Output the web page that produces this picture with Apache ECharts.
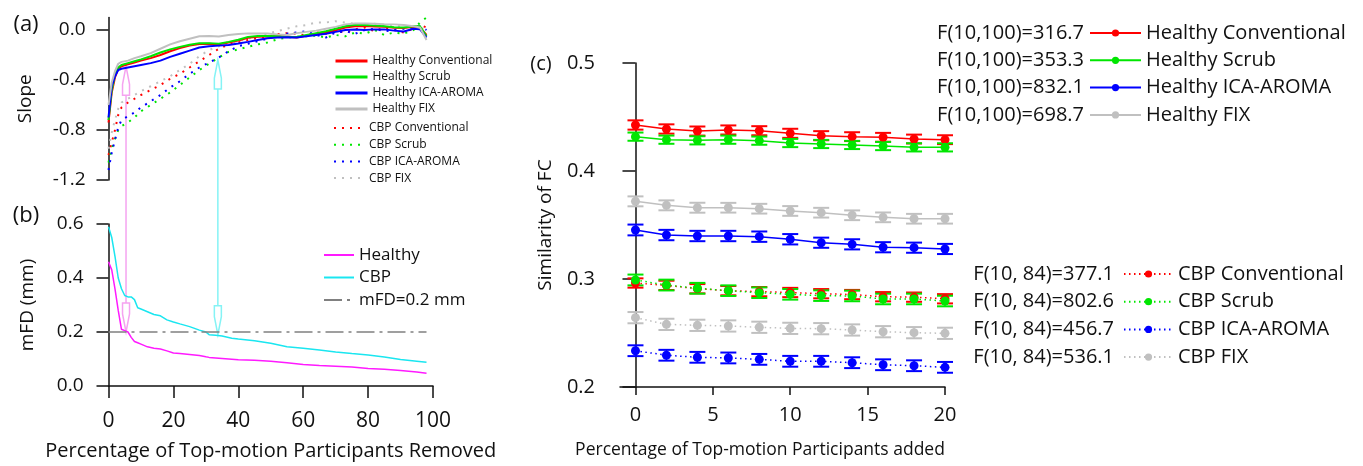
<!DOCTYPE html>
<html>
<head>
<meta charset="utf-8">
<script src="https://cdn.jsdelivr.net/npm/echarts@6/dist/echarts.min.js"></script>
<style>
  html, body { margin: 0; background: #fff; }
  #main { width: 1363px; height: 466px; }
</style>
</head>
<body>
<div id="main"></div>
<script>
// ---- panel (a): slope vs percentage removed ----
var pctA = [0, 1, 2, 3, 4, 6, 8, 10, 13, 16, 19, 22, 25, 28, 31, 34, 37, 40, 43, 46, 49, 52, 55, 58, 61, 64, 67, 70, 73, 76, 79, 82, 85, 88, 91, 94, 96, 98];
var slopeHConv = [-0.74, -0.50, -0.38, -0.31, -0.29, -0.275, -0.26, -0.245, -0.225, -0.20, -0.17, -0.145, -0.125, -0.112, -0.11, -0.115, -0.10, -0.085, -0.062, -0.055, -0.053, -0.05, -0.052, -0.06, -0.045, -0.032, -0.02, -0.003, 0.02, 0.03, 0.032, 0.028, 0.025, 0.018, 0.015, 0.025, 0.02, -0.04];
var slopeHScrub = [-0.72, -0.48, -0.36, -0.30, -0.28, -0.265, -0.25, -0.235, -0.21, -0.18, -0.155, -0.135, -0.118, -0.105, -0.105, -0.11, -0.095, -0.078, -0.055, -0.048, -0.047, -0.05, -0.053, -0.055, -0.04, -0.025, -0.01, 0.01, 0.03, 0.042, 0.04, 0.035, 0.03, 0.022, 0.02, 0.03, 0.03, -0.05];
var slopeHAroma = [-0.70, -0.45, -0.37, -0.32, -0.31, -0.30, -0.29, -0.28, -0.265, -0.245, -0.215, -0.19, -0.165, -0.14, -0.13, -0.125, -0.12, -0.108, -0.095, -0.08, -0.066, -0.06, -0.058, -0.06, -0.05, -0.04, -0.03, -0.015, 0.0, 0.004, 0.0, 0.005, 0.005, -0.005, -0.012, 0.01, 0.005, -0.06];
var slopeHFix = [-0.60, -0.42, -0.33, -0.27, -0.255, -0.245, -0.225, -0.21, -0.185, -0.15, -0.115, -0.09, -0.07, -0.05, -0.048, -0.052, -0.04, -0.032, -0.027, -0.027, -0.028, -0.035, -0.04, -0.025, -0.015, -0.005, 0.01, 0.025, 0.045, 0.052, 0.053, 0.05, 0.047, 0.045, 0.04, 0.03, 0.02, -0.08];
var slopeCConv = [-1.00, -0.90, -0.80, -0.68, -0.62, -0.58, -0.55, -0.52, -0.48, -0.44, -0.39, -0.35, -0.30, -0.25, -0.20, -0.15, -0.115, -0.10, -0.08, -0.065, -0.055, -0.035, -0.025, -0.03, -0.045, -0.02, -0.03, -0.01, -0.02, 0.005, 0.02, -0.01, 0.02, 0.0, -0.02, 0.01, 0.04, 0.02];
var slopeCScrub = [-1.06, -0.95, -0.87, -0.80, -0.77, -0.74, -0.70, -0.65, -0.60, -0.55, -0.50, -0.44, -0.38, -0.32, -0.27, -0.22, -0.175, -0.155, -0.135, -0.115, -0.10, -0.075, -0.06, -0.055, -0.05, -0.045, -0.06, -0.04, -0.05, -0.02, -0.03, 0.0, -0.04, -0.02, -0.03, 0.0, 0.06, 0.10];
var slopeCAroma = [-1.12, -0.98, -0.88, -0.78, -0.72, -0.69, -0.66, -0.62, -0.57, -0.52, -0.46, -0.41, -0.35, -0.30, -0.26, -0.22, -0.17, -0.13, -0.11, -0.09, -0.07, -0.045, -0.03, -0.02, -0.01, -0.04, -0.06, -0.02, -0.01, -0.03, 0.0, 0.01, -0.01, 0.0, 0.01, 0.02, 0.03, 0.0];
var slopeCFix = [-0.95, -0.82, -0.72, -0.63, -0.58, -0.55, -0.52, -0.49, -0.45, -0.41, -0.37, -0.32, -0.27, -0.21, -0.16, -0.13, -0.11, -0.09, -0.07, -0.05, -0.03, -0.01, 0.01, 0.03, 0.04, 0.06, 0.06, 0.07, 0.06, 0.05, 0.04, 0.05, 0.03, 0.04, 0.02, 0.03, 0.02, 0.0];

// ---- panel (b): mean FD vs percentage removed ----
var pctB = [0, 1, 2, 3, 4, 5, 6, 7, 8, 9, 10, 12, 14, 16, 18, 20, 22, 25, 28, 30, 31, 33, 35, 38, 40, 45, 50, 55, 60, 65, 70, 75, 80, 85, 90, 95, 98];
var mfdHealthy = [0.46, 0.43, 0.36, 0.28, 0.21, 0.205, 0.20, 0.18, 0.165, 0.16, 0.155, 0.145, 0.14, 0.137, 0.13, 0.122, 0.12, 0.117, 0.113, 0.108, 0.106, 0.104, 0.102, 0.099, 0.097, 0.095, 0.092, 0.086, 0.08, 0.076, 0.073, 0.07, 0.065, 0.062, 0.057, 0.052, 0.047];
var mfdCBP = [0.59, 0.55, 0.48, 0.40, 0.36, 0.335, 0.33, 0.33, 0.32, 0.29, 0.285, 0.275, 0.265, 0.26, 0.245, 0.237, 0.23, 0.22, 0.207, 0.20, 0.19, 0.188, 0.185, 0.177, 0.174, 0.168, 0.158, 0.145, 0.14, 0.133, 0.126, 0.12, 0.115, 0.107, 0.098, 0.092, 0.088];
var mfdLimitX = [0, 98];
var mfdLimit = 0.2;

// arrows linking (a) and (b)
var arrowPct = [5.4, 33.7];
var arrowSlope = [-0.29, -0.24];
var arrowMfd = [0.2, 0.19];
var arrowColors = ['#f5a3f0', '#85f3f5'];

// ---- panel (c): similarity of FC vs percentage added ----
var pctC = [0, 2, 4, 6, 8, 10, 12, 14, 16, 18, 20];
var simHConv = [0.4426, 0.4389, 0.4370, 0.4380, 0.4373, 0.4349, 0.4327, 0.4318, 0.4312, 0.4296, 0.4290];
var simHScrub = [0.4318, 0.4290, 0.4284, 0.4290, 0.4281, 0.4259, 0.4250, 0.4241, 0.4231, 0.4219, 0.4219];
var simHAroma = [0.3454, 0.3407, 0.3398, 0.3398, 0.3392, 0.3368, 0.3336, 0.3321, 0.3294, 0.3290, 0.3278];
var simHFix = [0.3719, 0.3682, 0.3660, 0.3660, 0.3651, 0.3630, 0.3614, 0.3590, 0.3571, 0.3558, 0.3558];
var simCConv = [0.2963, 0.2941, 0.2910, 0.2892, 0.2883, 0.2875, 0.2864, 0.2856, 0.2836, 0.2832, 0.2817];
var simCScrub = [0.2991, 0.2944, 0.2914, 0.2892, 0.2873, 0.2858, 0.2846, 0.2843, 0.2815, 0.2815, 0.2796];
var simCAroma = [0.2336, 0.2294, 0.2275, 0.2269, 0.2256, 0.2238, 0.2238, 0.2225, 0.2206, 0.2197, 0.2182];
var simCFix = [0.2642, 0.2580, 0.2571, 0.2565, 0.2553, 0.2543, 0.2540, 0.2528, 0.2512, 0.2503, 0.2497];
var errHConv = [0.0043, 0.0043, 0.0042, 0.0042, 0.0042, 0.0042, 0.0042, 0.0041, 0.0041, 0.0041, 0.0041];
var errHScrub = [0.0038, 0.0038, 0.0038, 0.0038, 0.0038, 0.0038, 0.0038, 0.0038, 0.0038, 0.0038, 0.0038];
var errHAroma = [0.0050, 0.0048, 0.0048, 0.0048, 0.0048, 0.0048, 0.0047, 0.0047, 0.0047, 0.0047, 0.0047];
var errHFix = [0.0046, 0.0046, 0.0046, 0.0045, 0.0045, 0.0045, 0.0045, 0.0045, 0.0045, 0.0045, 0.0045];
var errCConv = [0.0043, 0.0043, 0.0043, 0.0043, 0.0043, 0.0043, 0.0043, 0.0043, 0.0043, 0.0043, 0.0043];
var errCScrub = [0.0050, 0.0050, 0.0050, 0.0049, 0.0049, 0.0049, 0.0049, 0.0049, 0.0049, 0.0049, 0.0049];
var errCAroma = [0.0050, 0.0050, 0.0050, 0.0050, 0.0050, 0.0050, 0.0050, 0.0050, 0.0050, 0.0050, 0.0050];
var errCFix = [0.0052, 0.0052, 0.0052, 0.0052, 0.0052, 0.0052, 0.0052, 0.0052, 0.0052, 0.0052, 0.0052];

var healthyNames = ['Healthy Conventional', 'Healthy Scrub', 'Healthy ICA-AROMA', 'Healthy FIX'];
var cbpNames = ['CBP Conventional', 'CBP Scrub', 'CBP ICA-AROMA', 'CBP FIX'];
var fHealthy = ['F(10,100)=316.7', 'F(10,100)=353.3', 'F(10,100)=832.1', 'F(10,100)=698.7'];
var fCBP = ['F(10, 84)=377.1', 'F(10, 84)=802.6', 'F(10, 84)=456.7', 'F(10, 84)=536.1'];

var colors = ['#ff0000', '#00e600', '#0000ff', '#c0c0c0'];
var FONT = "'Open Sans', 'Noto Sans', sans-serif";
var INK = '#111';

function pairs(xs, ys) {
  return xs.map(function (x, i) { return [x, ys[i]]; });
}

var series = [];

// (a)
var slopeH = [slopeHConv, slopeHScrub, slopeHAroma, slopeHFix];
var slopeC = [slopeCConv, slopeCScrub, slopeCAroma, slopeCFix];
slopeC.forEach(function (ys, i) {
  series.push({
    name: cbpNames[i], type: 'line', xAxisIndex: 0, yAxisIndex: 0,
    data: pairs(pctA, ys), showSymbol: false, symbol: 'circle', silent: true,
    lineStyle: { color: colors[i], width: 2, type: [2, 6] },
    itemStyle: { color: colors[i] }
  });
});
slopeH.forEach(function (ys, i) {
  series.push({
    name: healthyNames[i], type: 'line', xAxisIndex: 0, yAxisIndex: 0,
    data: pairs(pctA, ys), showSymbol: false, symbol: 'circle', silent: true,
    lineStyle: { color: colors[i], width: 2 },
    itemStyle: { color: colors[i] }
  });
});

// (b)
series.push({
  name: 'Healthy', type: 'line', xAxisIndex: 1, yAxisIndex: 1,
  data: pairs(pctB, mfdHealthy), showSymbol: false, symbol: 'circle', silent: true,
  lineStyle: { color: '#ff1aff', width: 1.5 }, itemStyle: { color: '#ff1aff' }
});
series.push({
  name: 'CBP', type: 'line', xAxisIndex: 1, yAxisIndex: 1,
  data: pairs(pctB, mfdCBP), showSymbol: false, symbol: 'circle', silent: true,
  lineStyle: { color: '#1ae6f0', width: 1.5 }, itemStyle: { color: '#1ae6f0' }
});
series.push({
  name: 'mFD=0.2 mm', type: 'line', xAxisIndex: 1, yAxisIndex: 1,
  data: mfdLimitX.map(function (x) { return [x, mfdLimit]; }),
  showSymbol: false, symbol: 'circle', silent: true,
  lineStyle: { color: '#808080', width: 1.5, type: [18, 5, 3, 5] }, itemStyle: { color: '#808080' }
});

// (c)
function errorBars(ys, errs, color) {
  return {
    type: 'custom', xAxisIndex: 2, yAxisIndex: 2, z: 1, silent: true,
    data: pctC.map(function (x, i) { return [x, ys[i] - errs[i], ys[i] + errs[i]]; }),
    encode: { x: 0, y: [1, 2] },
    renderItem: function (params, api) {
      var lo = api.coord([api.value(0), api.value(1)]);
      var hi = api.coord([api.value(0), api.value(2)]);
      var w = 8;
      return {
        type: 'group',
        children: [
          { type: 'line', shape: { x1: lo[0], y1: lo[1], x2: hi[0], y2: hi[1] }, style: { stroke: color, lineWidth: 1.5 } },
          { type: 'line', shape: { x1: lo[0] - w, y1: lo[1], x2: lo[0] + w, y2: lo[1] }, style: { stroke: color, lineWidth: 2 } },
          { type: 'line', shape: { x1: hi[0] - w, y1: hi[1], x2: hi[0] + w, y2: hi[1] }, style: { stroke: color, lineWidth: 2 } }
        ]
      };
    }
  };
}
var simC = [simCConv, simCScrub, simCAroma, simCFix];
var errC = [errCConv, errCScrub, errCAroma, errCFix];
var simH = [simHConv, simHScrub, simHAroma, simHFix];
var errH = [errHConv, errHScrub, errHAroma, errHFix];
simC.forEach(function (ys, i) {
  series.push(errorBars(ys, errC[i], colors[i]));
  series.push({
    name: '(c) ' + cbpNames[i], type: 'line', xAxisIndex: 2, yAxisIndex: 2, z: 3,
    data: pairs(pctC, ys), symbol: 'circle', symbolSize: 9, silent: true,
    lineStyle: { color: colors[i], width: 1.5, type: [1.5, 3.5] },
    itemStyle: { color: colors[i] }
  });
});
simH.forEach(function (ys, i) {
  series.push(errorBars(ys, errH[i], colors[i]));
  series.push({
    name: '(c) ' + healthyNames[i], type: 'line', xAxisIndex: 2, yAxisIndex: 2, z: 3,
    data: pairs(pctC, ys), symbol: 'circle', symbolSize: 9, silent: true,
    lineStyle: { color: colors[i], width: 1.5 },
    itemStyle: { color: colors[i] }
  });
});

var axisLine = { show: true, lineStyle: { color: INK, width: 1.5 } };
var axisTick = function (len, vals) {
  var t = { show: true, length: len, lineStyle: { color: INK, width: 1.5 } };
  if (vals) t.customValues = vals;
  return t;
};
function oneDecimal(v) { return v.toFixed(1); }

var legendText = function (size, lh) {
  return { color: INK, fontSize: size, lineHeight: lh, fontFamily: FONT };
};
var stripPanel = function (n) { return n.replace('(c) ', ''); };

var texts = [
  { type: 'text', x: 26, y: 25, style: { text: '(a)', fontSize: 22, fontFamily: FONT, fill: INK, textAlign: 'center', textVerticalAlign: 'middle' } },
  { type: 'text', x: 26, y: 216, style: { text: '(b)', fontSize: 22, fontFamily: FONT, fill: INK, textAlign: 'center', textVerticalAlign: 'middle' } },
  { type: 'text', x: 541, y: 64, style: { text: '(c)', fontSize: 20, fontFamily: FONT, fill: INK, textAlign: 'center', textVerticalAlign: 'middle' } }
];
fHealthy.forEach(function (t, i) {
  texts.push({ type: 'text', x: 1084, y: 33 + i * 27.3, style: { text: t, fontSize: 20, fontFamily: FONT, fill: INK, textAlign: 'right', textVerticalAlign: 'middle' } });
});
fCBP.forEach(function (t, i) {
  texts.push({ type: 'text', x: 1114, y: 274 + i * 27.7, style: { text: t, fontSize: 20, fontFamily: FONT, fill: INK, textAlign: 'right', textVerticalAlign: 'middle' } });
});

var option = {
  animation: false,
  backgroundColor: '#fff',
  textStyle: { fontFamily: FONT },
  grid: [
    { left: 108.5, top: 17.5, width: 324.5, height: 162.5, outerBoundsMode: 'none' },
    { left: 108.5, top: 224, width: 324.5, height: 162, outerBoundsMode: 'none' },
    { left: 620, top: 63, width: 325, height: 324, outerBoundsMode: 'none' }
  ],
  xAxis: [
    { gridIndex: 0, type: 'value', min: 0, max: 100, show: false },
    {
      gridIndex: 1, type: 'value', min: 0, max: 100, interval: 20,
      axisLine: axisLine, axisTick: axisTick(12), splitLine: { show: false },
      axisLabel: { color: INK, fontSize: 21, margin: 25 },
      name: 'Percentage of Top-motion Participants Removed', nameLocation: 'middle', nameGap: 55,
      nameTextStyle: { color: INK, fontSize: 20 }
    },
    {
      gridIndex: 2, type: 'value', min: -1, max: 20,
      axisLine: axisLine, axisTick: axisTick(8, [0, 5, 10, 15, 20]), splitLine: { show: false },
      axisLabel: { color: INK, fontSize: 20, margin: 18, customValues: [0, 5, 10, 15, 20] },
      name: 'Percentage of Top-motion Participants added', nameLocation: 'middle', nameGap: 54,
      nameTextStyle: { color: INK, fontSize: 17.5, padding: [0, 45, 0, 0] }
    }
  ],
  yAxis: [
    {
      gridIndex: 0, type: 'value', min: -1.2, max: 0.1,
      axisLine: axisLine, axisTick: axisTick(12, [-1.2, -0.8, -0.4, 0]), splitLine: { show: false },
      axisLabel: { color: INK, fontSize: 19, margin: 23, formatter: oneDecimal, customValues: [-1.2, -0.8, -0.4, 0] },
      name: 'Slope', nameLocation: 'middle', nameGap: 73,
      nameTextStyle: { color: INK, fontSize: 19 }
    },
    {
      gridIndex: 1, type: 'value', min: 0, max: 0.6, interval: 0.2,
      axisLine: axisLine, axisTick: axisTick(12), splitLine: { show: false },
      axisLabel: { color: INK, fontSize: 19, margin: 25, formatter: oneDecimal },
      name: 'mFD (mm)', nameLocation: 'middle', nameGap: 71,
      nameTextStyle: { color: INK, fontSize: 19 }
    },
    {
      gridIndex: 2, type: 'value', min: 0.2, max: 0.5, interval: 0.1,
      axisLine: axisLine, axisTick: axisTick(13), splitLine: { show: false },
      axisLabel: { color: INK, fontSize: 20, margin: 25, formatter: oneDecimal },
      name: 'Similarity of FC', nameLocation: 'middle', nameGap: 65,
      nameTextStyle: { color: INK, fontSize: 19 }
    }
  ],
  legend: [
    {
      data: healthyNames, orient: 'vertical', left: 334, top: 54, padding: 0, itemWidth: 32, itemHeight: 14, itemGap: 2,
      textStyle: legendText(12, 14), itemStyle: { opacity: 0 }, lineStyle: { width: 3 }, selectedMode: false
    },
    {
      data: cbpNames, orient: 'vertical', left: 333, top: 121, padding: 0, itemWidth: 30, itemHeight: 14, itemGap: 2.7,
      textStyle: legendText(12, 14), itemStyle: { opacity: 0 }, selectedMode: false
    },
    {
      data: ['Healthy', 'CBP', 'mFD=0.2 mm'], orient: 'vertical', left: 323, top: 245, padding: 0, itemWidth: 30, itemHeight: 20, itemGap: 2.5,
      textStyle: legendText(17, 20), itemStyle: { opacity: 0 }, selectedMode: false
    },
    {
      data: healthyNames.map(function (n) { return '(c) ' + n; }), formatter: stripPanel,
      orient: 'vertical', left: 1089, top: 22, padding: 0, itemWidth: 51, itemHeight: 9, itemGap: 5.3,
      textStyle: legendText(20, 22), selectedMode: false
    },
    {
      data: cbpNames.map(function (n) { return '(c) ' + n; }), formatter: stripPanel,
      orient: 'vertical', left: 1123, top: 263, padding: 0, itemWidth: 49, itemHeight: 9, itemGap: 5.7,
      textStyle: legendText(20, 22), selectedMode: false
    }
  ],
  graphic: texts,
  series: series
};

var chart = echarts.init(document.getElementById('main'), null, { renderer: 'canvas' });
chart.setOption(option);

// arrows spanning panels (a) and (b), placed through the axes' own scales
var arrowGraphics = [];
arrowPct.forEach(function (p, i) {
  var top = chart.convertToPixel({ xAxisIndex: 0, yAxisIndex: 0 }, [p, arrowSlope[i]]);
  var bot = chart.convertToPixel({ xAxisIndex: 1, yAxisIndex: 1 }, [p, arrowMfd[i]]);
  var x = top[0], c = arrowColors[i], hw = 3.5, taper = 18, len = 29;
  var st = { stroke: c, lineWidth: 1.5, fill: 'none' };
  arrowGraphics.push({ type: 'line', shape: { x1: x, y1: top[1] + len, x2: x, y2: bot[1] - len }, style: st });
  arrowGraphics.push({ type: 'polygon', shape: { points: [[x, top[1]], [x - hw, top[1] + taper], [x - hw, top[1] + len], [x + hw, top[1] + len], [x + hw, top[1] + taper]] }, style: st });
  arrowGraphics.push({ type: 'polygon', shape: { points: [[x, bot[1]], [x - hw, bot[1] - taper], [x - hw, bot[1] - len], [x + hw, bot[1] - len], [x + hw, bot[1] - taper]] }, style: st });
});
chart.setOption({ graphic: texts.concat(arrowGraphics) });
</script>
</body>
</html>
